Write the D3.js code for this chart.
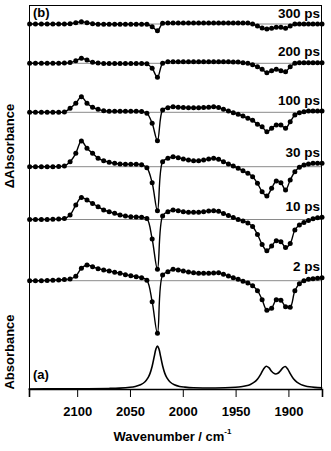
<!DOCTYPE html>
<html>
<head>
<meta charset="utf-8">
<script src="https://cdn.jsdelivr.net/npm/d3@7"></script>
<style>
  html, body { margin: 0; padding: 0; background: #fff; }
  svg { display: block; }
  text { font-family: "Liberation Sans", Arial, sans-serif; font-weight: bold; fill: #000; }
</style>
</head>
<body>
<div id="chart"></div>
<script>
// Probe-pulse wavenumbers (cm^-1) of the array detector pixels
const wavenumbers = [2145.0, 2139.5, 2133.9, 2128.4, 2123.0, 2117.5, 2112.1, 2106.7, 2101.3, 2096.0,
  2090.7, 2085.4, 2080.2, 2074.9, 2069.7, 2064.5, 2059.4, 2054.3, 2049.2, 2044.1,
  2039.0, 2034.0, 2029.0, 2024.0, 2019.1, 2014.1, 2009.2, 2004.3, 1999.5, 1994.6,
  1989.8, 1985.0, 1980.3, 1975.5, 1970.8, 1966.1, 1961.5, 1956.8, 1952.2, 1947.6,
  1943.0, 1938.4, 1933.9, 1929.3, 1924.9, 1920.4, 1915.9, 1911.5, 1907.1, 1902.7,
  1898.3, 1893.9, 1889.6, 1885.3, 1881.0, 1876.7, 1872.4, 1868.2];

// Transient difference spectra, ΔA in mOD
const delays = ["2 ps", "10 ps", "30 ps", "100 ps", "200 ps", "300 ps"];
const dA_2ps = [0, 0, 0, 0.03, 0.05, 0.08, 0.12, 0.18, 0.45, 1.25,
  1.57, 1.4, 1.2, 1.07, 0.97, 0.85, 0.75, 0.6, 0.5, 0.4,
  0.3, 0.05, -2.1, -5.26, 0.57, 0.9, 1.14, 1.07, 0.97, 0.86,
  0.8, 0.75, 0.74, 0.74, 0.78, 0.8, 0.65, 0.47, 0.3, 0.14,
  -0.05, -0.22, -0.5, -1.0, -1.9, -2.95, -2.75, -1.9, -1.95, -2.6,
  -2.65, -1.0, -0.3, 0, 0.14, 0.2, 0.24, 0.3];
const dA_10ps = [0, 0, 0, 0, 0.03, 0.05, 0.1, 0.45, 1.45, 2.2,
  1.95, 1.6, 1.28, 0.95, 0.78, 0.62, 0.45, 0.35, 0.28, 0.25,
  0.22, 0.1, -1.95, -4.98, 0.35, 0.78, 0.95, 0.88, 0.78, 0.72,
  0.72, 0.72, 0.78, 0.85, 0.88, 0.82, 0.6, 0.4, 0.2, 0,
  -0.14, -0.35, -0.7, -1.5, -2.5, -3.12, -2.65, -2.12, -2.22, -2.8,
  -2.4, -1.05, -0.55, -0.3, -0.1, 0.08, 0.18, 0.22];
const dA_30ps = [0, 0, 0, 0, 0, 0.03, 0.08, 0.5, 1.34, 2.57,
  1.84, 1.34, 0.84, 0.6, 0.44, 0.34, 0.27, 0.24, 0.24, 0.24,
  0.2, -0.1, -1.6, -4.4, 0.5, 0.84, 1.0, 0.9, 0.77, 0.67,
  0.6, 0.6, 0.67, 0.77, 0.84, 0.74, 0.5, 0.27, 0.07, -0.16,
  -0.4, -0.66, -1.0, -1.66, -2.5, -2.93, -2.16, -1.43, -1.6, -2.33,
  -1.33, -0.5, -0.06, 0.17, 0.27, 0.34, 0.34, 0.35];
const dA_100ps = [0, 0, 0, 0, 0, 0, 0.03, 0.4, 0.9, 1.56,
  0.9, 0.5, 0.3, 0.15, 0.1, 0.1, 0.1, 0.1, 0.1, 0.1,
  0.08, -0.1, -1.1, -2.84, 0.23, 0.46, 0.56, 0.5, 0.48, 0.46,
  0.46, 0.46, 0.48, 0.5, 0.56, 0.48, 0.3, 0.13, -0.04, -0.2,
  -0.37, -0.6, -0.8, -1.2, -1.44, -1.94, -1.6, -1.27, -1.27, -1.6,
  -0.94, -0.27, -0.04, 0.06, 0.13, 0.13, 0.13, 0.13];
const dA_200ps = [0, 0, 0, 0, 0, 0, 0.03, 0.07, 0.26, 0.5,
  0.33, 0.1, 0.03, -0.03, -0.03, -0.03, -0.03, -0.03, -0.03, -0.03,
  -0.03, -0.05, -0.5, -1.4, 0, 0.16, 0.16, 0.16, 0.16, 0.16,
  0.16, 0.16, 0.16, 0.16, 0.16, 0.16, 0.16, 0.15, 0.14, 0.13,
  0.06, 0, -0.15, -0.34, -0.6, -0.94, -0.74, -0.6, -0.74, -0.84,
  -0.34, 0, 0.06, 0.06, 0.06, 0.06, 0.06, 0.06];
const dA_300ps = [0, 0, 0, 0, 0, 0, 0, 0.03, 0.13, 0.23,
  0.13, 0.03, -0.02, -0.02, -0.02, -0.02, -0.02, -0.02, -0.02, -0.02,
  -0.02, -0.02, -0.27, -0.67, 0.07, 0.1, 0.1, 0.1, 0.1, 0.1,
  0.1, 0.1, 0.1, 0.1, 0.1, 0.1, 0.1, 0.1, 0.1, 0.1,
  0.1, 0.1, 0, -0.2, -0.4, -0.5, -0.43, -0.33, -0.33, -0.43,
  -0.2, 0, 0, 0, 0, 0, 0, 0];
const deltaSeries = [dA_2ps, dA_10ps, dA_30ps, dA_100ps, dA_200ps, dA_300ps];
// Vertical stacking offsets of the difference spectra (mOD)
const traceOffsets = [10.83, 16.95, 22.23, 27.67, 32.57, 36.5];

// FTIR ground-state spectrum, normalised absorbance
const ftirWavenumbers = [2146, 2120, 2090, 2070, 2060, 2050, 2045, 2040, 2036, 2033,
  2031, 2029, 2027, 2025.5, 2024, 2022.5, 2021, 2019, 2017, 2015,
  2012, 2008, 2003, 1998, 1990, 1980, 1970, 1960, 1950, 1945,
  1940, 1936, 1932, 1929, 1926, 1923.5, 1921, 1918.5, 1916, 1914,
  1912, 1910, 1908, 1905.5, 1903, 1900.5, 1898, 1895, 1892, 1888,
  1884, 1880, 1875, 1868];
const ftirAbsorbance = [0, 0.003, 0.006, 0.013, 0.021, 0.04, 0.06, 0.099, 0.163, 0.258,
  0.364, 0.529, 0.757, 0.926, 1.0, 0.926, 0.757, 0.529, 0.364, 0.258,
  0.163, 0.099, 0.06, 0.044, 0.029, 0.024, 0.024, 0.028, 0.041, 0.053,
  0.076, 0.107, 0.163, 0.238, 0.352, 0.467, 0.53, 0.495, 0.414, 0.368,
  0.35, 0.365, 0.411, 0.488, 0.522, 0.457, 0.345, 0.231, 0.159, 0.102,
  0.071, 0.052, 0.038, 0.026];

const xTicks = [2100, 2050, 2000, 1950, 1900];

const W = 331, H = 451;
const margin = { left: 29, right: 9, top: 5, bottom: 62 };
const plotW = W - margin.left - margin.right;
const plotH = H - margin.top - margin.bottom;

const svg = d3.select("#chart").append("svg")
  .attr("width", W).attr("height", H);

const x = d3.scaleLinear().domain([2145.6, 1868.2]).range([margin.left, margin.left + plotW]);
const y = d3.scaleLinear().domain([0, 38.4]).range([margin.top + plotH, margin.top]);
const yAbs = d3.scaleLinear().domain([0, 1]).range([margin.top + plotH, margin.top + plotH - 43]);

// zero lines of the difference spectra
svg.append("g").selectAll("line").data(traceOffsets).join("line")
  .attr("x1", margin.left).attr("x2", margin.left + plotW)
  .attr("y1", d => y(d)).attr("y2", d => y(d))
  .attr("stroke", "#8a8a8a").attr("stroke-width", 1);

// FTIR spectrum
const ftir = ftirWavenumbers.map((w, i) => [w, ftirAbsorbance[i]]);
svg.append("path").datum(ftir)
  .attr("fill", "none").attr("stroke", "#000").attr("stroke-width", 1.6)
  .attr("d", d3.line().x(d => x(d[0])).y(d => yAbs(d[1])).curve(d3.curveCatmullRom.alpha(0.5)));

// Difference spectra: fit line + data points
const line = d3.line().x(d => x(d[0])).y(d => y(d[1])).curve(d3.curveCatmullRom.alpha(0.5));
deltaSeries.forEach((vals, k) => {
  const off = traceOffsets[k];
  const pts = wavenumbers.map((w, i) => [w, vals[i] + off]);
  const g = svg.append("g");
  g.append("path").datum(pts)
    .attr("fill", "none").attr("stroke", "#000").attr("stroke-width", 1.4)
    .attr("d", line);
  g.selectAll("circle").data(pts).join("circle")
    .attr("cx", d => x(d[0])).attr("cy", d => y(d[1])).attr("r", 2.5)
    .attr("fill", "#000");
  g.append("text")
    .attr("x", margin.left + plotW - 2)
    .attr("y", y(off + vals[vals.length - 1]) - 6.5)
    .attr("text-anchor", "end").attr("font-size", 13.5)
    .text(delays[k]);
});

// frame
svg.append("rect")
  .attr("x", margin.left + 0.5).attr("y", margin.top + 0.5)
  .attr("width", plotW - 1).attr("height", plotH)
  .attr("fill", "none").attr("stroke", "#000").attr("stroke-width", 1);

// bottom axis
const xAxis = d3.axisBottom(x).tickValues(xTicks).tickSize(8).tickPadding(10).tickFormat(d3.format("d"));
const ax = svg.append("g").attr("transform", `translate(0,${margin.top + plotH})`).call(xAxis);
ax.select(".domain").attr("stroke-width", 1.6);
ax.selectAll(".tick line").attr("stroke", "#000");
ax.selectAll(".tick text").attr("font-size", 13).attr("font-family", "Liberation Sans, Arial, sans-serif")
  .attr("font-weight", "bold").attr("fill", "#000");

// axis titles
const title = svg.append("text").attr("x", margin.left + plotW / 2 - 3).attr("y", 441)
  .attr("text-anchor", "middle").attr("font-size", 13);
title.append("tspan").text("Wavenumber / cm");
title.append("tspan").attr("dy", -7).attr("font-size", 8).text("-1");

svg.append("text").attr("transform", "translate(14,146) rotate(-90)")
  .attr("text-anchor", "middle").attr("font-size", 13).text("ΔAbsorbance");
svg.append("text").attr("transform", "translate(14,352) rotate(-90)")
  .attr("text-anchor", "middle").attr("font-size", 13).text("Absorbance");

// panel letters
svg.append("text").attr("x", 33).attr("y", 17).attr("font-size", 13).text("(b)");
svg.append("text").attr("x", 33).attr("y", 379).attr("font-size", 13).text("(a)");
</script>
</body>
</html>
